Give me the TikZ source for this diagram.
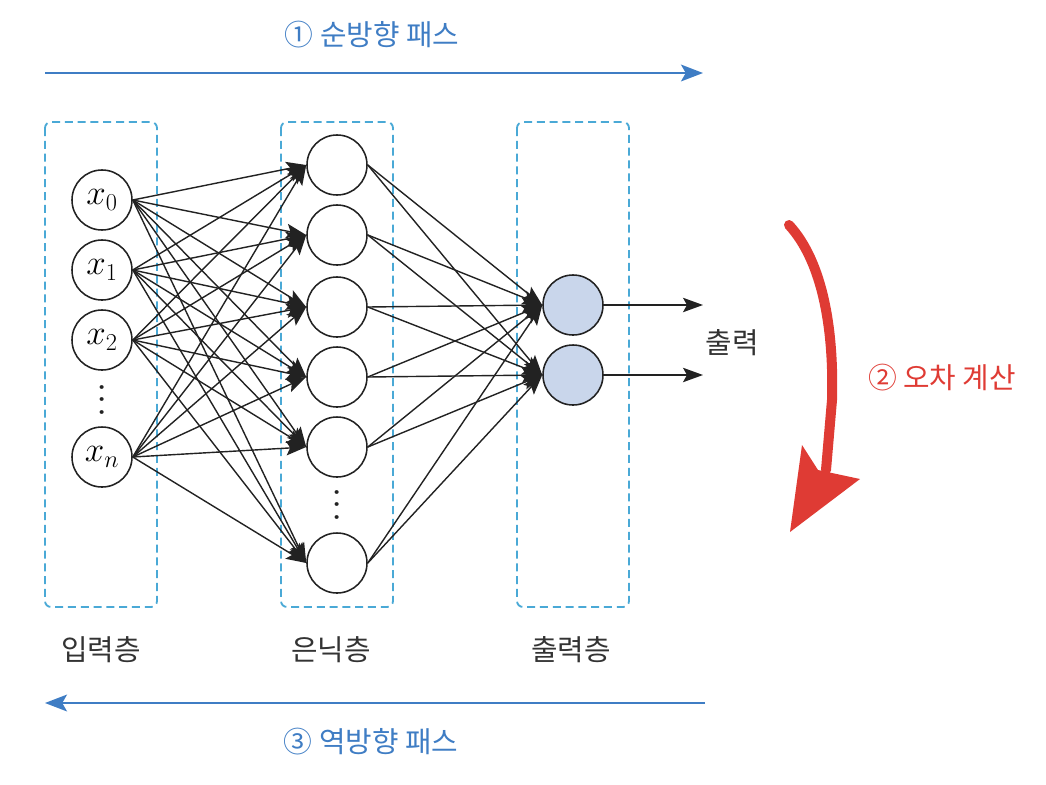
\documentclass[tikz,border=0pt]{standalone}
\usepackage{fontspec}
\setmainfont{Noto Sans CJK KR}
\usetikzlibrary{arrows.meta}
\definecolor{passblue}{HTML}{3F7DC4}
\definecolor{errred}{HTML}{DF3B34}
\definecolor{boxcyan}{HTML}{4AA9D6}
\definecolor{outfill}{HTML}{C9D6EB}
\definecolor{inkgray}{HTML}{222222}
\definecolor{labelgray}{HTML}{333333}
\begin{document}
\begin{tikzpicture}
[x=0.025cm,y=-0.025cm,
  neuron/.style={shape=circle,minimum size=1.5cm,inner sep=0pt,draw=inkgray,line width=1.1pt,
    font=\fontsize{25pt}{30pt}\selectfont},
  outneuron/.style={neuron,fill=outfill},
  layerbox/.style={draw=boxcyan,line width=1.3pt,dash pattern=on 0.2cm off 0.12cm,rounded corners=0.15cm},
  linkarrow/.style={-{Stealth[length=0.5cm,width=0.36cm,inset=0.1cm]},line width=1pt,draw=inkgray},
  passarrow/.style={-{Stealth[length=0.55cm,width=0.42cm,inset=0.12cm]},line width=1.4pt,draw=passblue},
  labeltext/.style={font=\fontsize{20.5pt}{24pt}\selectfont,text=labelgray,inner sep=0pt},
  dotstext/.style={font=\fontsize{20.5pt}{24pt}\selectfont,text=inkgray,inner sep=0pt,rotate=-90}]
\useasboundingbox (0,0) rectangle (1046,784);
%% layer boxes
\draw[layerbox] (45,122) rectangle (157,607);
\draw[layerbox] (281,122) rectangle (393,607);
\draw[layerbox] (517,122) rectangle (629,607);
%% input nodes
\foreach \nodename/\y/\sub in {x0/200/0, x1/270/1, x2/340/2, xn/457/n}
{
  \node (\nodename) at (102,\y) [neuron] {$x_{\sub}$};
}
\node (idots) at (102,400) [dotstext] {.\kern3pt.\kern3pt.};
%% hidden nodes
\foreach \nodename/\y in {h1/165, h2/235, h3/307, h4/377, h5/447, h6/563}
{
  \node (\nodename) at (337,\y) [neuron] {};
}
\node (hdots) at (337,505) [dotstext] {.\kern3pt.\kern3pt.};
%% output nodes
\node (o1) at (573,305) [outneuron] {};
\node (o2) at (573,375) [outneuron] {};
%% edges
\foreach \src in {x0,x1,x2,xn}
  \foreach \dst in {h1,h2,h3,h4,h5,h6}
    \draw[linkarrow] (\src.east) -- (\dst.west);
\foreach \src in {h1,h2,h3,h4,h5,h6}
  \foreach \dst in {o1,o2}
    \draw[linkarrow] (\src.east) -- (\dst.west);
\coordinate (out1) at (703,305);
\coordinate (out2) at (703,375);
\draw[linkarrow] (o1.east) -- (out1);
\draw[linkarrow] (o2.east) -- (out2);
\node (outlabel) at (732,343) [labeltext] {출력};
%% layer names
\node (inname) at (101,650) [labeltext] {입력층};
\node (hidname) at (331,650) [labeltext] {은닉층};
\node (outname) at (571,650) [labeltext] {출력층};
%% forward and backward pass
\coordinate (fwdstart) at (45,73);
\coordinate (fwdend) at (703,73);
\draw[passarrow] (fwdstart) -- (fwdend);
\node (fwdlabel) at (372,35) [labeltext,text=passblue] {① 순방향 패스};
\coordinate (bwdstart) at (705,703);
\coordinate (bwdend) at (45,703);
\draw[passarrow] (bwdstart) -- (bwdend);
\node (bwdlabel) at (371,742) [labeltext,text=passblue] {③ 역방향 패스};
%% error calculation
\draw[errred,line width=0.25cm,line cap=round] (789,225) .. controls (823,262) and (834,330) .. (832,400) -- (826,470);
\fill[errred] (802,445) -- (818,470) -- (860,479) -- (790,532) -- cycle;
\node (errlabel) at (942,378) [labeltext,text=errred] {② 오차 계산};
\end{tikzpicture}
\end{document}
